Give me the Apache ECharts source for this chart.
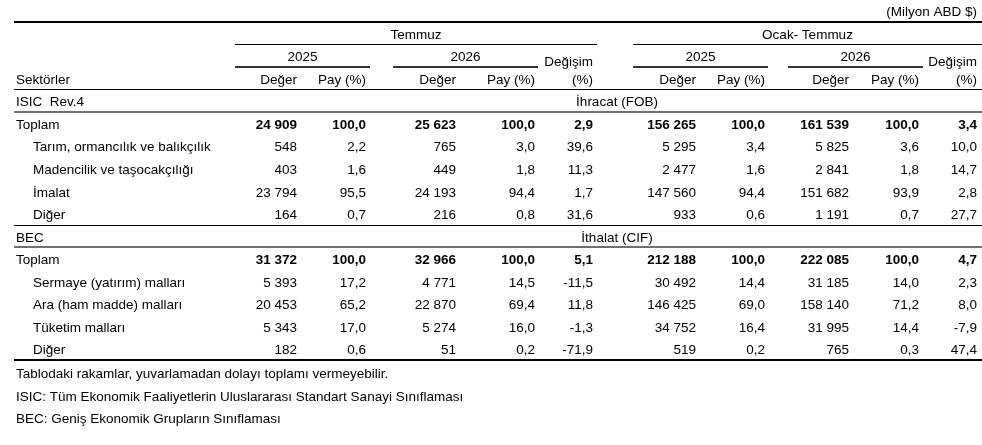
<!DOCTYPE html>
<html>
<head>
<meta charset="utf-8">
<script src="https://cdn.jsdelivr.net/npm/echarts@6/dist/echarts.min.js"></script>
<style>
html,body{margin:0;padding:0;background:#fff;}
#chart{width:982px;height:445px;}
</style>
</head>
<body>
<div id="chart"></div>
<script>
// ---------- DATA ----------
const unitLabel = '(Milyon ABD $)';
const periodLabels = ['Temmuz', 'Ocak- Temmuz'];
const yearLabels = ['2025', '2026'];
const columnLabels = ['Değer', 'Pay (%)', 'Değer', 'Pay (%)', '(%)', 'Değer', 'Pay (%)', 'Değer', 'Pay (%)', '(%)'];
const changeLabel = 'Değişim';
const sectorHeader = 'Sektörler';

const exportClass = 'ISIC  Rev.4';
const exportTitle = 'İhracat (FOB)';
const exportRows = ['Toplam', 'Tarım, ormancılık ve balıkçılık', 'Madencilik ve taşocakçılığı', 'İmalat', 'Diğer'];
const exportJul2025Value = [24909, 548, 403, 23794, 164];
const exportJul2025Share = [100.0, 2.2, 1.6, 95.5, 0.7];
const exportJul2026Value = [25623, 765, 449, 24193, 216];
const exportJul2026Share = [100.0, 3.0, 1.8, 94.4, 0.8];
const exportJulChange = [2.9, 39.6, 11.3, 1.7, 31.6];
const exportYtd2025Value = [156265, 5295, 2477, 147560, 933];
const exportYtd2025Share = [100.0, 3.4, 1.6, 94.4, 0.6];
const exportYtd2026Value = [161539, 5825, 2841, 151682, 1191];
const exportYtd2026Share = [100.0, 3.6, 1.8, 93.9, 0.7];
const exportYtdChange = [3.4, 10.0, 14.7, 2.8, 27.7];

const importClass = 'BEC';
const importTitle = 'İthalat (CIF)';
const importRows = ['Toplam', 'Sermaye (yatırım) malları', 'Ara (ham madde) malları', 'Tüketim malları', 'Diğer'];
const importJul2025Value = [31372, 5393, 20453, 5343, 182];
const importJul2025Share = [100.0, 17.2, 65.2, 17.0, 0.6];
const importJul2026Value = [32966, 4771, 22870, 5274, 51];
const importJul2026Share = [100.0, 14.5, 69.4, 16.0, 0.2];
const importJulChange = [5.1, -11.5, 11.8, -1.3, -71.9];
const importYtd2025Value = [212188, 30492, 146425, 34752, 519];
const importYtd2025Share = [100.0, 14.4, 69.0, 16.4, 0.2];
const importYtd2026Value = [222085, 31185, 158140, 31995, 765];
const importYtd2026Share = [100.0, 14.0, 71.2, 14.4, 0.3];
const importYtdChange = [4.7, 2.3, 8.0, -7.9, 47.4];

const footnotes = [
  'Tablodaki rakamlar, yuvarlamadan dolayı toplamı vermeyebilir.',
  'ISIC: Tüm Ekonomik Faaliyetlerin Uluslararası Standart Sanayi Sınıflaması',
  'BEC: Geniş Ekonomik Grupların Sınıflaması'
];

// ---------- LAYOUT (positions on the x scale, row indices on the y scale) ----------
const ROWS = 19;
const colRight = [297, 366, 456, 535, 593, 696, 765, 849, 919, 977];
const periodSpan = [[235, 597], [633, 982]];
const yearSpan = [[235, 370], [393, 538], [633, 768], [788, 923]];
const labelX = 16, indentX = 33, titleX = 617, tableLeft = 14, tableRight = 982;

// ---------- formatting ----------
function fmtInt(v) { return String(v).replace(/\B(?=(\d{3})+(?!\d))/g, ' '); }
function fmtDec(v) { return v.toFixed(1).replace('.', ','); }

// ---------- build cells ----------
const cells = [];
function cell(x, row, text, align, bold, dy) { cells.push({ x, row, text, align: align || 'left', bold: !!bold, dy: dy || 0 }); }

cell(colRight[9], 0, unitLabel, 'right');
periodLabels.forEach((p, i) => cell((periodSpan[i][0] + periodSpan[i][1]) / 2, 1, p, 'center'));
yearSpan.forEach((s, i) => cell((s[0] + s[1]) / 2, 2, yearLabels[i % 2], 'center'));
cell(colRight[4], 2, changeLabel, 'right', false, 5);
cell(colRight[9], 2, changeLabel, 'right', false, 5);
cell(labelX, 3, sectorHeader, 'left');
columnLabels.forEach((c, i) => cell(colRight[i], 3, c, 'right'));

function block(startRow, cls, title, names, cols) {
  cell(labelX, startRow, cls, 'left');
  cell(titleX, startRow, title, 'center');
  names.forEach((n, r) => {
    const row = startRow + 1 + r;
    const bold = r === 0;
    cell(r === 0 ? labelX : indentX, row, n, 'left');
    cols.forEach((arr, c) => {
      const isValue = (c === 0 || c === 2 || c === 5 || c === 7);
      cell(colRight[c], row, isValue ? fmtInt(arr[r]) : fmtDec(arr[r]), 'right', bold);
    });
  });
}
block(4, exportClass, exportTitle, exportRows, [
  exportJul2025Value, exportJul2025Share, exportJul2026Value, exportJul2026Share, exportJulChange,
  exportYtd2025Value, exportYtd2025Share, exportYtd2026Value, exportYtd2026Share, exportYtdChange]);
block(10, importClass, importTitle, importRows, [
  importJul2025Value, importJul2025Share, importJul2026Value, importJul2026Share, importJulChange,
  importYtd2025Value, importYtd2025Share, importYtd2026Value, importYtd2026Share, importYtdChange]);
footnotes.forEach((f, i) => cell(labelX, 16 + i, f, 'left', false, 1));

const rules = [
  { x0: tableLeft, x1: tableRight, row: 0, w: 2, c: '#000', dy: -1 },
  { x0: periodSpan[0][0], x1: periodSpan[0][1], row: 1, w: 1, c: '#000', dy: -1 },
  { x0: periodSpan[1][0], x1: periodSpan[1][1], row: 1, w: 1, c: '#000', dy: -1 },
  { x0: yearSpan[0][0], x1: yearSpan[0][1], row: 2, w: 2, c: '#333', dy: -1 },
  { x0: yearSpan[1][0], x1: yearSpan[1][1], row: 2, w: 2, c: '#333', dy: -1 },
  { x0: yearSpan[2][0], x1: yearSpan[2][1], row: 2, w: 2, c: '#333', dy: -1 },
  { x0: yearSpan[3][0], x1: yearSpan[3][1], row: 2, w: 2, c: '#333', dy: -1 },
  { x0: tableLeft, x1: tableRight, row: 3, w: 1, c: '#000', dy: -1 },
  { x0: tableLeft, x1: tableRight, row: 4, w: 2, c: '#707070', dy: -1 },
  { x0: tableLeft, x1: tableRight, row: 9, w: 1, c: '#000', dy: -1 },
  { x0: tableLeft, x1: tableRight, row: 10, w: 2, c: '#707070', dy: -1 },
  { x0: tableLeft, x1: tableRight, row: 15, w: 2, c: '#000', dy: -1 }
];

const FONT = '13.5px "Liberation Sans", Arial, sans-serif';
const FONT_B = 'bold 13.5px "Liberation Sans", Arial, sans-serif';
const bandH = 445 / (ROWS + 0.72);

const chart = echarts.init(document.getElementById('chart'), null, { renderer: 'canvas' });
chart.setOption({
  animation: false,
  backgroundColor: '#fff',
  grid: { left: 0, right: 0, top: 0, bottom: 445 - bandH * ROWS },
  xAxis: { type: 'value', min: 0, max: 982, show: false },
  yAxis: { type: 'category', inverse: true, data: Array.from({ length: ROWS }, (_, i) => String(i)), show: false },
  series: [
    {
      type: 'custom', silent: true, clip: false,
      data: rules.map(r => [r.x0, r.row]),
      renderItem: function (params, api) {
        const r = rules[params.dataIndex];
        const p0 = api.coord([r.x0, r.row]);
        const p1 = api.coord([r.x1, r.row]);
        const h = api.size([0, 1])[1];
        const y = Math.round(p0[1] + h / 2 + r.dy) + (r.w % 2 ? 0.5 : 0);
        return { type: 'line', shape: { x1: p0[0], y1: y, x2: p1[0], y2: y }, style: { stroke: r.c, lineWidth: r.w } };
      }
    },
    {
      type: 'custom', silent: true, clip: false,
      data: cells.map(c => [c.x, c.row]),
      renderItem: function (params, api) {
        const c = cells[params.dataIndex];
        const p = api.coord([c.x, c.row]);
        return {
          type: 'text', x: p[0], y: p[1] + 1 + c.dy,
          style: { text: c.text, align: c.align, verticalAlign: 'middle', fill: '#000', font: c.bold ? FONT_B : FONT }
        };
      }
    }
  ]
});
</script>
</body>
</html>
